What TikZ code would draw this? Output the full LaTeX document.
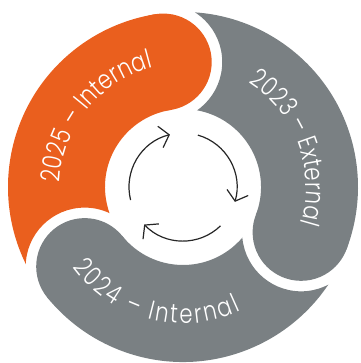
\documentclass[tikz,border=0pt]{standalone}
\usepackage{fontspec}
\newfontfamily\yearfont{Poppins Light}[FakeStretch=0.8]
\usetikzlibrary{calc, arrows.meta, decorations.text}
\definecolor{cycorange}{HTML}{EA5F1E}
\definecolor{cycgray}{HTML}{7A8083}

\begin{document}
\begin{tikzpicture}[
  x=1pt, y=1pt,
  yearlbl/.style={decorate, decoration={text along path, text align=fit to path,
    text={|\yearfont\fontsize{26.5}{26.5}\selectfont\color{white}|#1}}},
  cyc/.style={line width=1.2pt, draw=black!85,
    -{Straight Barb[length=9pt, width=22pt]}},
]
\useasboundingbox (0,0) rectangle (360,363);
\coordinate (C) at (183,176);
\def\Rin{78pt}\def\Rout{175pt}\def\Rmid{126.5pt}
\def\Rcap{48.5pt}\def\Rcut{59pt}

%% ---- the three ring segments: tail cut round the previous head ----
\foreach \col/\tail/\head in {cycorange/219/99, cycgray/99/-21, cycgray/-21/-141} {
  \begin{scope}
    \clip (C) ++(-500,-500) -- ++(0,1000) -- ++(1000,0) -- ++(0,-1000) -- cycle
      ($(C)+(\tail:\Rmid)$) circle (\Rcut);
    \fill[\col] ($(C)+(\tail:\Rout)$) arc (\tail:\head:\Rout)
      -- ($(C)+(\head:\Rin)$) arc (\head:\tail:\Rin) -- cycle;
    \fill[\col] ($(C)+(\head:\Rmid)$) circle (\Rcap);
  \end{scope}
}

%% ---- labels along the ring ----
\path[yearlbl={2025 – Internal}] ($(C)+(178:123pt)$) arc (178:104:123pt);
\path[yearlbl={2023 – External}] ($(C)+(58:123pt)$) arc (58:-17:123pt);
\path[yearlbl={2024 – Internal}] ($(C)+(216:136.5pt)$) arc (216:295:136.5pt);

%% ---- cycle arrows in the middle ----
\foreach \a/\b in {194/104, 74/-16, -46/-136}
  \draw[cyc] ($(C)+(\a:54pt)$) arc (\a:\b:54pt);
\end{tikzpicture}
\end{document}
